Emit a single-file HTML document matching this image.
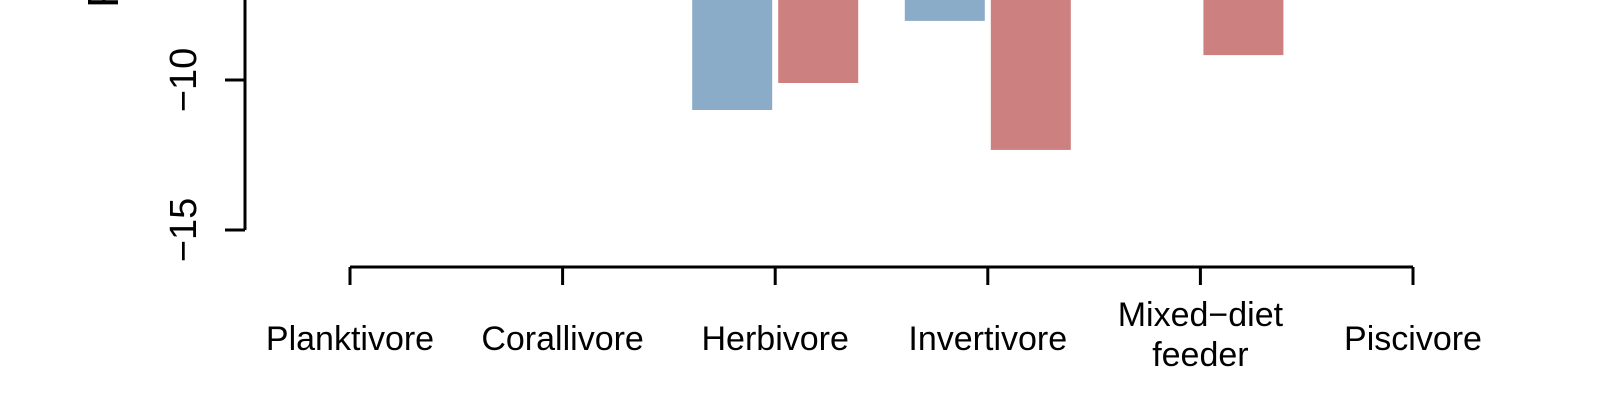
<!DOCTYPE html>
<html><head><meta charset="utf-8"><style>
html,body{margin:0;padding:0;background:#fff;}
svg{display:block;font-family:"Liberation Sans",sans-serif;}
</style></head><body>
<svg id="c" width="1600" height="400" viewBox="0 0 1600 400"></svg>
<script>
const categories=["Planktivore","Corallivore","Herbivore","Invertivore","Mixed\u2212diet|feeder","Piscivore"];
const seriesA=[null,null,-11.0,-8.03,null,null];
const seriesB=[null,null,-10.1,-12.33,-9.17,null];
const yTicks=[-10,-15];
const NS="http://www.w3.org/2000/svg";
const svg=document.getElementById('c');
function mk(t,a,p){const e=document.createElementNS(NS,t);for(const k in a)e.setAttribute(k,a[k]);(p||svg).appendChild(e);return e;}
const y=v=>80+(-10-v)*30;
const x=i=>350+i*212.6;
const ya=mk('g',{});
mk('line',{x1:245,y1:0,x2:245,y2:y(-15),stroke:'#000','stroke-width':3},ya);
yTicks.forEach(t=>{
 mk('line',{x1:225,y1:y(t),x2:245,y2:y(t),stroke:'#000','stroke-width':3},ya);
 const tx=mk('text',{x:0,y:0,transform:`translate(196,${y(t)}) rotate(-90)`,'text-anchor':'middle','font-size':38},ya);
 
 tx.textContent=String(t).replace('-','\u2212');
});
const tt=mk('text',{x:0,y:0,transform:'translate(118,8) rotate(-90)','text-anchor':'start','font-size':44});

tt.textContent='R';
const bw=80,gap=6;
categories.forEach((c,i)=>{
 const cx=x(i);
 if(seriesA[i]!==null){const r=mk('rect',{x:cx-gap/2-bw,y:y(0),width:bw,height:y(seriesA[i])-y(0),fill:'#8aacc8'});
  }
 if(seriesB[i]!==null){const r=mk('rect',{x:cx+gap/2,y:y(0),width:bw,height:y(seriesB[i])-y(0),fill:'#cd8080'});
  }
});
const xa=mk('g',{});
mk('line',{x1:x(0),y1:267,x2:x(5),y2:267,stroke:'#000','stroke-width':3},xa);
categories.forEach((c,i)=>{
 mk('line',{x1:x(i),y1:267,x2:x(i),y2:285,stroke:'#000','stroke-width':3},xa);
 const parts=c.split('|');
 parts.forEach((p,j)=>{
  const base=parts.length>1?326:350;
  const t=mk('text',{x:x(i),y:base+j*40,'text-anchor':'middle','font-size':34},xa);
  
  t.textContent=p;
 });
});
</script>
</body></html>
